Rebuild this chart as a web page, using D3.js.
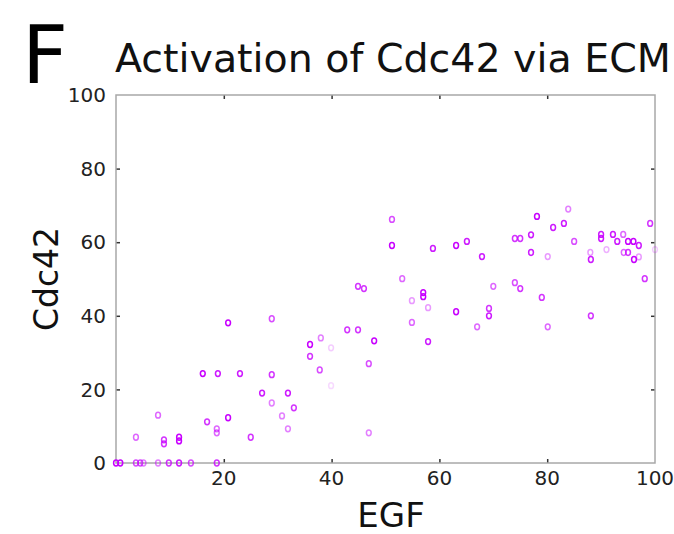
<!DOCTYPE html>
<html>
<head>
<meta charset="utf-8">
<script src="https://cdn.jsdelivr.net/npm/d3@7"></script>
<style>
  body { margin: 0; background: #fff; }
  text { font-family: "DejaVu Sans", sans-serif; }
</style>
</head>
<body>
<svg width="674" height="534"></svg>
<script>
// values
var egf = [0, 0.8, 3.7, 4.5, 5.1, 7.8, 9.8, 11.7, 13.9, 18.7,
  3.7, 7.8, 8.9, 8.9, 11.7, 11.7, 16.9, 18.7, 18.7, 20.8,
  25, 27.1, 28.9, 16.1, 18.9, 20.8, 23, 28.9, 28.9, 31.9,
  30.8, 31.9, 33, 36, 36, 38, 39.9, 37.8, 39.9, 42.9,
  44.9, 47.9, 46.9, 46.9, 44.9, 46, 51.2, 51.2, 53.1, 54.9,
  54.9, 57, 57, 57.9, 57.9, 58.8, 63.1, 65.1, 63.1, 67.9,
  67, 69.2, 69.2, 70, 74, 75, 74, 75, 77, 77,
  78.1, 79, 80.1, 80.1, 81.1, 83.1, 83.9, 85, 88.1, 88,
  88.1, 90, 90, 91, 92.2, 93, 94.1, 94.2, 95, 95,
  96, 97, 96.1, 97, 98.1, 99.1, 100];
var cdc42 = [0, 0, 0, 0, 0, 0, 0, 0, 0, 0,
  7, 13, 6.3, 5.2, 7, 6, 11.2, 9.3, 8.2, 12.3,
  7, 19, 16.3, 24.3, 24.3, 38.1, 24.3, 39.2, 24, 19,
  12.8, 9.3, 15, 32.2, 29, 34, 31.3, 25.3, 21, 36.2,
  36.2, 33.2, 27, 8.2, 48, 47.4, 66.2, 59.1, 50.1, 44.1,
  38.2, 46.3, 45.2, 42.2, 33, 58.3, 59.1, 60.2, 41.1, 56.1,
  37, 42, 40, 48, 61, 61, 49, 47.4, 62, 57.2,
  67, 45, 56.1, 37, 64, 65.1, 69, 60.2, 55.3, 57.2,
  40, 62.1, 61, 58, 62.1, 60.2, 62.1, 57.2, 57.2, 60.2,
  60.2, 59.1, 55.3, 56, 50.1, 65.1, 58];
// point intensity (how dark each marker looks)
var weight = [1, 1, 0.7, 0.7, 0.5, 0.5, 0.8, 0.9, 0.7, 0.8,
  0.6, 0.6, 0.8, 0.8, 1, 1, 0.8, 0.6, 0.6, 1,
  0.8, 0.9, 0.5, 1, 0.9, 1, 0.9, 0.7, 0.8, 0.9,
  0.5, 0.5, 0.8, 1, 0.8, 0.5, 0.2, 0.7, 0.15, 0.8,
  0.8, 1, 0.7, 0.5, 0.8, 0.8, 0.7, 1, 0.6, 0.4,
  0.6, 1, 1, 0.4, 0.9, 0.9, 1, 0.9, 1, 0.9,
  0.6, 0.8, 0.9, 0.6, 0.8, 0.8, 0.7, 0.8, 0.9, 0.9,
  1, 0.8, 0.4, 0.6, 0.9, 0.9, 0.5, 0.7, 0.9, 0.4,
  0.8, 0.9, 0.9, 0.3, 0.9, 0.9, 0.6, 0.6, 0.8, 1,
  1, 0.9, 1, 0.4, 0.8, 0.8, 0.2];
var xTicks = [20, 40, 60, 80, 100];
var yTicks = [0, 20, 40, 60, 80, 100];

var svg = d3.select('svg');

var plotL = 116, plotR = 655, plotT = 95, plotB = 463;
var scaleX = d3.scaleLinear().domain([0, 100]).range([plotL, plotR]);
var scaleY = d3.scaleLinear().domain([0, 100]).range([plotB, plotT]);

var points = egf.map(function(d, i){
  return {x: d, y: cdc42[i], w: weight[i]};
});

// panel letter and title
svg.append('text')
  .attr('x', 22).attr('y', 83)
  .attr('font-size', 80)
  .attr('fill', '#000')
  .text('F');

svg.append('text')
  .attr('x', 115).attr('y', 72)
  .attr('font-size', 39.5)
  .attr('fill', '#111')
  .text('Activation of Cdc42 via ECM');

// ticks, inward on all four sides
var tickBottom = d3.axisBottom(scaleX).tickValues([20, 40, 60, 80]).tickSizeInner(-4).tickSizeOuter(0).tickFormat('');
var tickTop = d3.axisTop(scaleX).tickValues([20, 40, 60, 80]).tickSizeInner(-4).tickSizeOuter(0).tickFormat('');
var tickLeft = d3.axisLeft(scaleY).tickValues([20, 40, 60, 80]).tickSizeInner(-4).tickSizeOuter(0).tickFormat('');
var tickRight = d3.axisRight(scaleY).tickValues([20, 40, 60, 80]).tickSizeInner(-4).tickSizeOuter(0).tickFormat('');

[[tickBottom, 'translate(0,' + plotB + ')'],
 [tickTop, 'translate(0,' + plotT + ')'],
 [tickLeft, 'translate(' + plotL + ',0)'],
 [tickRight, 'translate(' + plotR + ',0)']].forEach(function(a){
  var g = svg.append('g').attr('transform', a[1]).call(a[0]);
  g.select('.domain').remove();
  g.selectAll('line').attr('stroke', '#333').attr('stroke-width', 1.5);
});

// frame
svg.append('rect')
  .attr('x', plotL).attr('y', plotT)
  .attr('width', plotR - plotL).attr('height', plotB - plotT)
  .attr('fill', 'none')
  .attr('stroke', '#a8a8a8')
  .attr('stroke-width', 1.5);

// tick labels
svg.selectAll('.xlab')
  .data(xTicks)
  .enter()
  .append('text')
  .attr('class', 'xlab')
  .attr('x', function(d){ return scaleX(d); })
  .attr('y', 485)
  .attr('text-anchor', 'middle')
  .attr('font-size', 20)
  .attr('fill', '#222')
  .text(function(d){ return d; });

svg.selectAll('.ylab')
  .data(yTicks)
  .enter()
  .append('text')
  .attr('class', 'ylab')
  .attr('x', 106)
  .attr('y', function(d){ return scaleY(d); })
  .attr('dy', '0.36em')
  .attr('text-anchor', 'end')
  .attr('font-size', 20)
  .attr('fill', '#222')
  .text(function(d){ return d; });

// axis titles
svg.append('text')
  .attr('x', 391).attr('y', 527)
  .attr('text-anchor', 'middle')
  .attr('font-size', 34)
  .attr('fill', '#111')
  .text('EGF');

svg.append('text')
  .attr('transform', 'translate(58,279) rotate(-90)')
  .attr('text-anchor', 'middle')
  .attr('font-size', 33)
  .attr('fill', '#111')
  .text('Cdc42');

// markers
var alpha = d3.scaleLinear().domain([0, 1]).range([0, 1]);

svg.append('g')
  .selectAll('ellipse')
  .data(points)
  .enter()
  .append('ellipse')
  .attr('cx', function(d){ return scaleX(d.x); })
  .attr('cy', function(d){ return scaleY(d.y); })
  .attr('rx', 2.4)
  .attr('ry', 2.9)
  .attr('fill', 'none')
  .attr('stroke', '#c800ff')
  .attr('stroke-width', 1.5)
  .attr('stroke-opacity', function(d){ return alpha(d.w); });
</script>
</body>
</html>
